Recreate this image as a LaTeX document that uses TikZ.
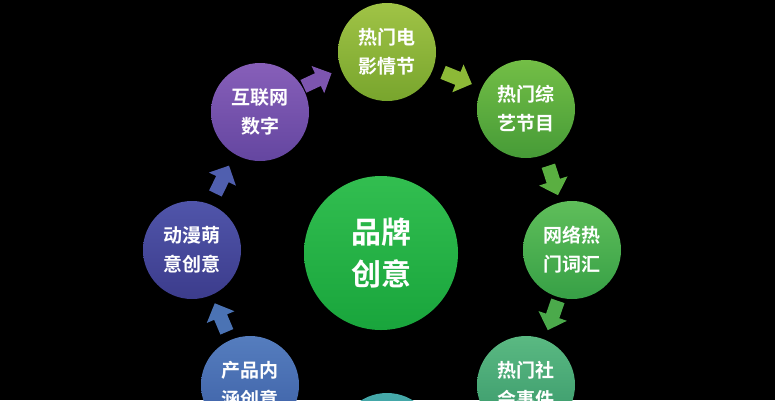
\documentclass[tikz,border=0pt]{standalone}
\usepackage{fontspec}
\newfontfamily\cjk{Noto Sans CJK SC}[BoldFont={Noto Sans CJK SC Bold}]
\begin{document}
\begin{tikzpicture}[x=1pt,y=-1pt,
  bubble/.style={circle,minimum size=98pt,inner sep=0pt,text=white,align=center,
    font=\cjk\bfseries\fontsize{19}{29}\selectfont},
  blockarrow/.pic={\fill[pic actions] (-15,-7)--(1,-7)--(1,-15)--(16,0)--(1,15)--(1,7)--(-15,7)--cycle;}]
\fill[black] (0,0) rectangle (775,400);
\useasboundingbox (0,0) rectangle (775,400);
\node[bubble,minimum size=154pt,font=\cjk\bfseries\fontsize{30}{42}\selectfont,
  top color={rgb,255:red,50;green,190;blue,80},bottom color={rgb,255:red,25;green,165;blue,60}] (c) at (381,253) {品牌\\创意};
\node[bubble,top color={rgb,255:red,160;green,195;blue,70},bottom color={rgb,255:red,120;green,165;blue,45}] (a1) at (387,52) {热门电\\影情节};
\node[bubble,top color={rgb,255:red,115;green,190;blue,70},bottom color={rgb,255:red,70;green,155;blue,55}] (a2) at (526,109) {热门综\\艺节目};
\node[bubble,top color={rgb,255:red,95;green,190;blue,90},bottom color={rgb,255:red,55;green,160;blue,70}] (a3) at (572,250) {网络热\\门词汇};
\node[bubble,top color={rgb,255:red,90;green,185;blue,130},bottom color={rgb,255:red,55;green,150;blue,105}] (a4) at (526,385) {热门社\\会事件};
\node[bubble,top color={rgb,255:red,70;green,170;blue,170},bottom color={rgb,255:red,45;green,140;blue,150}] (a5) at (387,442) {};
\node[bubble,top color={rgb,255:red,85;green,125;blue,190},bottom color={rgb,255:red,60;green,95;blue,165}] (a6) at (250,385) {产品内\\涵创意};
\node[bubble,top color={rgb,255:red,80;green,85;blue,170},bottom color={rgb,255:red,60;green,60;blue,140}] (a7) at (192,250) {动漫萌\\意创意};
\node[bubble,top color={rgb,255:red,135;green,95;blue,185},bottom color={rgb,255:red,100;green,70;blue,160}] (a8) at (260,112) {互联网\\数字};
\pic[rotate=25,fill={rgb,255:red,125;green,85;blue,175}] at (317,80) {blockarrow};
\pic[rotate=-22,fill={rgb,255:red,140;green,185;blue,55}] at (457,78) {blockarrow};
\pic[rotate=-72,fill={rgb,255:red,90;green,175;blue,65}] at (553,180) {blockarrow};
\pic[rotate=-109,fill={rgb,255:red,75;green,170;blue,75}] at (553,315) {blockarrow};
\pic[rotate=-158,fill={rgb,255:red,70;green,165;blue,120}] at (458,418) {blockarrow};
\pic[rotate=158,fill={rgb,255:red,60;green,140;blue,165}] at (318,418) {blockarrow};
\pic[rotate=113,fill={rgb,255:red,75;green,115;blue,180}] at (221,318) {blockarrow};
\pic[rotate=64,fill={rgb,255:red,80;green,95;blue,175}] at (222,180) {blockarrow};
\end{tikzpicture}
\end{document}
